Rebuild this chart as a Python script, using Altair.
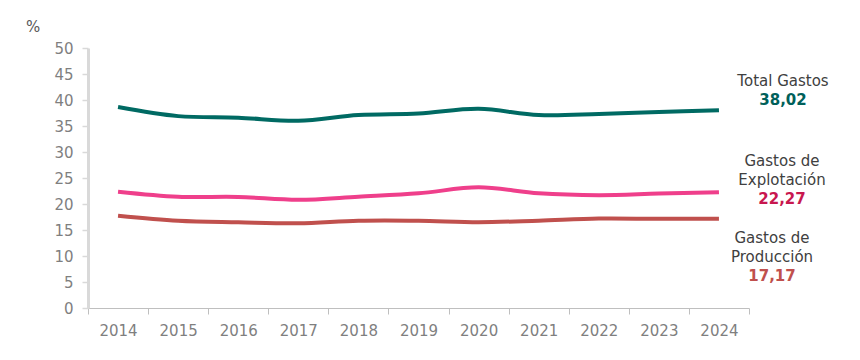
import altair as alt
import pandas as pd

years = ["2014", "2015", "2016", "2017", "2018", "2019", "2020", "2021", "2022", "2023", "2024"]
total_gastos = [38.65, 36.9, 36.6, 36.0, 37.1, 37.4, 38.3, 37.1, 37.3, 37.7, 38.02]
gastos_explotacion = [22.37, 21.4, 21.35, 20.8, 21.4, 22.05, 23.2, 22.05, 21.7, 22.0, 22.27]
gastos_produccion = [17.76, 16.8, 16.5, 16.3, 16.8, 16.8, 16.5, 16.8, 17.2, 17.15, 17.17]

series_names = ["Total Gastos", "Gastos de Explotación", "Gastos de Producción"]
series_colors = ["#006a63", "#ef3f8b", "#c0504d"]

rows = []
for name, vals in zip(series_names, [total_gastos, gastos_explotacion, gastos_produccion]):
    for y, v in zip(years, vals):
        rows.append({"year": y, "value": v, "serie": name})
df = pd.DataFrame(rows)

FONT = "DejaVu Sans"

x_enc = alt.X("year:N", sort=years, title=None,
              scale=alt.Scale(paddingInner=0, paddingOuter=0),
              axis=alt.Axis(labelAngle=0, labelFontSize=15, labelColor="#7f7f7f", labelFont=FONT,
                            domainColor="#bfbfbf", domainWidth=1, tickColor="#bfbfbf",
                            tickSize=6, labelPadding=9, tickBand="extent", grid=False))
y_enc = alt.Y("value:Q", title=None,
              scale=alt.Scale(domain=[0, 50], nice=False),
              axis=alt.Axis(values=list(range(0, 51, 5)), labelFontSize=15, labelColor="#7f7f7f",
                            labelFont=FONT, domainColor="#d9d9d9", domainWidth=3,
                            tickColor="#d9d9d9", tickSize=6, tickWidth=1.5, labelPadding=9, grid=False))

lines = alt.Chart(df).mark_line(strokeWidth=4, interpolate="catmull-rom").encode(
    x=x_enc, y=y_enc,
    color=alt.Color("serie:N", scale=alt.Scale(domain=series_names, range=series_colors), legend=None),
)

# annotation blocks: (lines of text, x, y of first line, color, weight)
label_text = [["%"], ["Total Gastos"], ["38,02"], ["Gastos de", "Explotación"], ["22,27"],
              ["Gastos de", "Producción"], ["17,17"]]
label_x = [-55, 695, 695, 694, 694, 684, 684]
label_y = [-21, 33, 52, 113, 151, 190, 228]
label_color = ["#595959", "#404040", "#00605a", "#404040", "#c8174f", "#404040", "#c0504d"]
label_weight = ["normal", "normal", "bold", "normal", "bold", "normal", "bold"]

ann = []
for t, xx, yy, c, w in zip(label_text, label_x, label_y, label_color, label_weight):
    ann.append(
        alt.Chart(pd.DataFrame({"k": [0]})).mark_text(
            font=FONT, fontSize=15, color=c, fontWeight=w, align="center", baseline="middle",
            lineHeight=19, text=t if len(t) > 1 else t[0]
        ).encode(x=alt.value(xx), y=alt.value(yy))
    )

chart = alt.layer(lines, *ann).properties(
    width=661, height=260,
    autosize=alt.AutoSizeParams(type="none"),
    padding={"left": 80, "top": 40, "right": 100, "bottom": 40},
    background="white",
).configure_view(stroke=None)

chart.save("out.html", embed_options={"renderer": "svg", "actions": False})
